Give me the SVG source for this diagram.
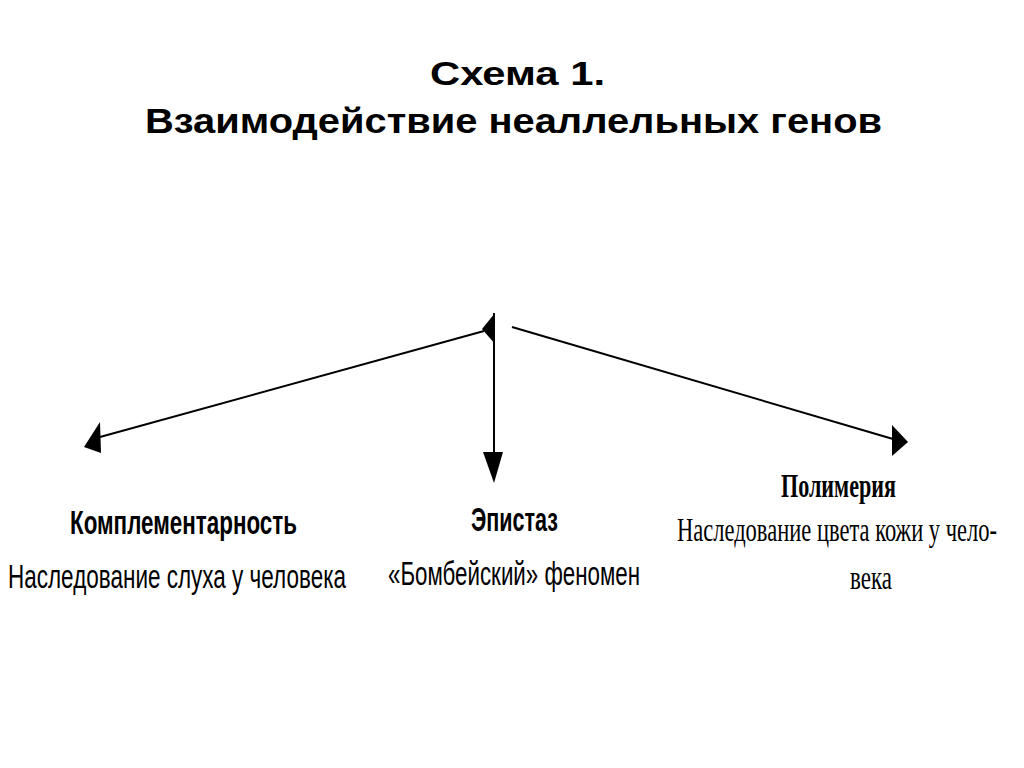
<svg xmlns="http://www.w3.org/2000/svg" width="1024" height="768" viewBox="0 0 1024 768">
<style>
.t1{font-family:"Liberation Sans",Arial,sans-serif;font-weight:bold;font-size:33px;fill:#000}
.t2{font-family:"Liberation Sans",Arial,sans-serif;font-weight:bold;font-size:35px;fill:#000}
.hd{font-family:"Liberation Sans",Arial,sans-serif;font-weight:bold;font-size:34px;fill:#000}
.tx{font-family:"Liberation Sans",Arial,sans-serif;font-size:34px;fill:#000}
.sh{font-family:"Liberation Serif","Times New Roman",serif;font-weight:bold;font-size:33px;fill:#000}
.st{font-family:"Liberation Serif","Times New Roman",serif;font-size:33px;fill:#000}
.ln{stroke:#000;stroke-width:2;fill:none}
.ah{fill:#000}
</style>
<rect width="1024" height="768" fill="#fff"/>
<g id="title">
<text class="t1" x="430" y="85" textLength="175" lengthAdjust="spacingAndGlyphs">Схема 1.</text>
<text class="t2" x="145" y="133" textLength="737" lengthAdjust="spacingAndGlyphs">Взаимодействие неаллельных генов</text>
</g>
<g id="connectors">
<line class="ln" x1="484" y1="331" x2="100" y2="437"/>
<line class="ln" x1="512" y1="327" x2="893" y2="439"/>
<line class="ln" x1="494" y1="313" x2="494" y2="455"/>
<polygon class="ah" points="482,329 495,313 495,344"/>
<polygon class="ah" points="84,447 100,422 101,453"/>
<polygon class="ah" points="908,442 892,425 892,456"/>
<polygon class="ah" points="483,452 503,452 494,483"/>
</g>
<g id="node-complementarity">
<text class="hd" x="70" y="534" textLength="227" lengthAdjust="spacingAndGlyphs">Комплементарность</text>
<text class="tx" x="8" y="588" textLength="338" lengthAdjust="spacingAndGlyphs">Наследование слуха у человека</text>
</g>
<g id="node-epistasis">
<text class="hd" x="471" y="531" textLength="87" lengthAdjust="spacingAndGlyphs">Эпистаз</text>
<text class="tx" x="388" y="585" textLength="252" lengthAdjust="spacingAndGlyphs">«Бомбейский» феномен</text>
</g>
<g id="node-polymery">
<text class="sh" x="781" y="497" textLength="115" lengthAdjust="spacingAndGlyphs">Полимерия</text>
<text class="st" x="677" y="541" textLength="320" lengthAdjust="spacingAndGlyphs">Наследование цвета кожи у чело-</text>
<text class="st" x="850" y="589" textLength="42" lengthAdjust="spacingAndGlyphs">века</text>
</g>
</svg>
